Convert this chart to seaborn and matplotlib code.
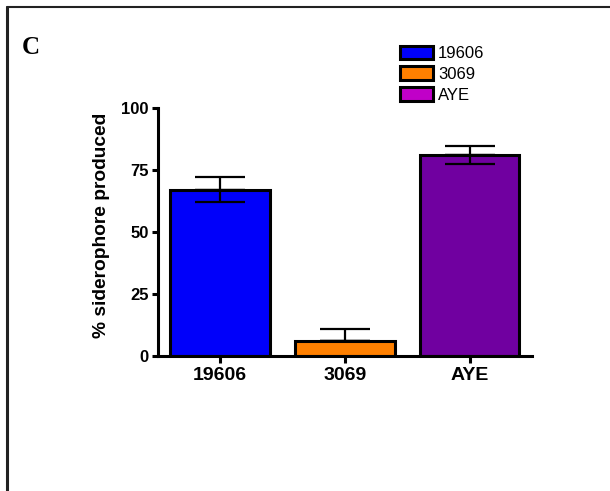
import numpy as np
import pandas as pd
import matplotlib
matplotlib.use("Agg")
import matplotlib.pyplot as plt
import seaborn as sns
from matplotlib.patches import Patch
from matplotlib.lines import Line2D

strains = ["19606", "3069", "AYE"]
siderophore = [67, 6, 81]
err_upper = [5, 5, 3.5]
err_lower = [5, 0, 3.5]
bar_colors = ["#0000FA", "#FF8000", "#7000A0"]
legend_colors = ["#0000FA", "#FF8000", "#C000C8"]
yticks = [0, 25, 50, 75, 100]

df = pd.DataFrame({"strain": strains, "value": siderophore})

sns.set_style("white")
plt.rcParams["font.family"] = ["Liberation Sans", "DejaVu Sans"]
plt.rcParams["text.color"] = "black"
plt.rcParams["xtick.color"] = "black"
plt.rcParams["ytick.color"] = "black"
plt.rcParams["axes.labelcolor"] = "black"

fig = plt.figure(figsize=(6.1, 4.91), dpi=100)
ax = fig.add_axes([0.259, 0.275, 0.613, 0.505])

sns.barplot(data=df, x="strain", y="value", hue="strain", palette=bar_colors,
            saturation=1, width=0.8, edgecolor="black", linewidth=2.2,
            legend=False, ax=ax, zorder=2)

x = np.arange(len(strains))
ax.errorbar(x, siderophore, yerr=[np.zeros(len(x)), err_upper],
            fmt="none", ecolor="black", elinewidth=1.6, capsize=18, capthick=1.6, zorder=1)
ax.errorbar(x, siderophore, yerr=[err_lower, np.zeros(len(x))],
            fmt="none", ecolor="black", elinewidth=1.6, capsize=18, capthick=1.6, zorder=3)

ax.set_xlim(-0.5, 2.5)
ax.set_ylim(0, 100)
ax.set_yticks(yticks)
ax.set_xlabel("")
ax.set_ylabel("% siderophore produced", fontsize=13.8, fontweight="bold")
ax.yaxis.set_label_coords(-0.128, 0.528)
for sp in ["top", "right"]:
    ax.spines[sp].set_visible(False)
for sp in ["left", "bottom"]:
    ax.spines[sp].set_linewidth(2.2)
    ax.spines[sp].set_color("black")
ax.tick_params(axis="y", direction="out", length=4.5, width=2.2, pad=2, labelsize=12, left=True)
ax.tick_params(axis="x", direction="out", length=5, width=2.2, pad=3, labelsize=14, bottom=True)
for lab in ax.get_xticklabels() + ax.get_yticklabels():
    lab.set_fontweight("bold")

handles = [Patch(facecolor=c, edgecolor="black", linewidth=2.2) for c in legend_colors]
fig.legend(handles, strains, loc="upper left", bbox_to_anchor=(0.655, 0.907),
           frameon=False, fontsize=12, handlelength=2.0, handleheight=0.9,
           labelspacing=0.3, handletextpad=0.3, borderpad=0, borderaxespad=0)

fig.text(0.036, 0.891, "C", fontsize=18, fontweight="bold",
         family=["Liberation Serif", "DejaVu Serif"], ha="left", va="baseline")

# panel frame (top and left edges)
fig.add_artist(Line2D([0.011, 1.0], [0.986, 0.986], color="#222222", linewidth=1.5,
                      transform=fig.transFigure))
fig.add_artist(Line2D([0.011, 0.011], [0.0, 0.986], color="#222222", linewidth=2.2,
                      transform=fig.transFigure))

fig.savefig("out.png", dpi=100)
